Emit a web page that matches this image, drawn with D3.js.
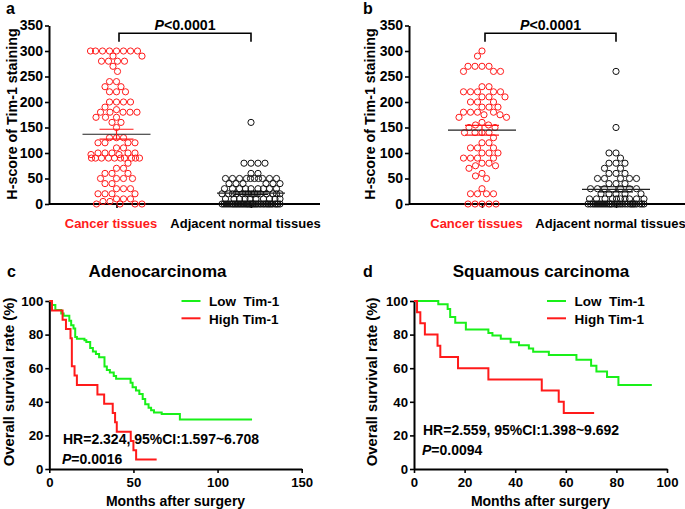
<!DOCTYPE html>
<html><head><meta charset="utf-8">
<script src="https://cdn.jsdelivr.net/npm/d3@7"></script>
<style>
body{margin:0;background:#fff}
text{font-family:"Liberation Sans",Arial,Helvetica,sans-serif;font-weight:bold}
</style>
</head><body>
<svg id="chart" width="685" height="509"></svg>
<script>
// ---------------- DATA ----------------
const categories = ["Cancer tissues", "Adjacent normal tissues"];
const scatterTicks = [0, 50, 100, 150, 200, 250, 300, 350];

const cancerA = [300,300,300,300,300,300,300,300,290,290,280,280,280,280,270,260,
  240,240,230,230,220,220,220,200,200,200,200,190,185,180,180,180,180,180,
  170,170,170,160,160,150,130,130,130,120,120,120,120,110,110,
  100,100,100,100,100,97,97,90,90,90,90,90,90,90,90,90,90,80,70,70,
  60,60,60,50,50,50,50,40,40,30,30,30,20,20,20,20,10,10,10,5,5,0,0,0,0];
const adjacentA = [160,80,80,80,80,60,60,50,50,50,50,50,50,50,50,50,50,
  40,40,40,40,40,40,30,30,30,30,30,30,30,30,30,
  20,20,20,20,20,20,20,20,20,20,20,20,20,20,20,
  10,10,10,10,10,10,10,10,10,10,
  0,0,0,0,0,0,0,0,0,0,0,0,0,0,0,0,0,0,0,0,0,0,0,0,0,0,0,0,0,0,0,0,0,0,0,0,0];
const cancerB = [300,290,270,270,270,270,260,260,260,230,230,220,220,220,220,220,
  210,210,210,200,200,200,190,190,190,180,180,180,180,175,175,170,170,160,155,155,
  150,150,140,140,140,140,130,120,120,110,110,110,100,100,100,90,90,90,90,
  80,80,75,75,70,60,55,50,30,20,20,20,20,0,0,0,0,0];
const adjacentB = [260,150,100,100,90,80,80,80,70,70,60,60,60,50,50,50,50,50,
  40,40,40,30,30,30,30,30,30,20,20,20,20,20,10,10,10,10,10,10,10,10,10,10,
  0,0,0,0,0,0,0,0,0,0,0,0,0,0,0,0,0,0,0,0,0,0,0,0,0,0,0,0];

// Kaplan-Meier curves (months, survival %)
const survTicks = [0, 20, 40, 60, 80, 100];
const monthTicksC = [0, 50, 100, 150];
const monthTicksD = [0, 20, 40, 60, 80, 100];
const lowC_t = [0,1.6,3.6,7.1,8.5,11.9,13,14.4,15.4,16.4,20.9,22,24.3,25.9,27.7,29.6,32.8,34.2,36,38.3,39.7,48.3,49.5,51.5,53.5,55.5,57,59,60.5,62.2,66.8,77.6,120.5];
const lowC_s = [100,97.6,94.6,92.6,91.2,88.2,85.6,83.6,78.6,77.6,76.6,75.6,72,70,68.5,66.5,61,59,57.5,55.3,53.7,51.3,48.7,46.7,44.7,41.7,38.5,36.5,35,33.7,32.7,29.5,29.5];
const highC_t = [0,1.6,7.9,9.9,12.6,13.4,15,16.4,28.6,32.6,37.7,39.1,40.1,48.4,50,51.6,63.8];
const highC_s = [100,94.4,88.9,83.3,77.8,61.1,55.6,50,44.4,38.9,33.3,27.8,22.2,16.7,11.1,5.6,5.6];
const lowD_t = [0,9.6,13.3,14.3,16.3,20.5,29.4,31,34.3,38.2,41.5,45.4,47.1,53.3,64.2,70,72.1,76.3,80.8,94];
const lowD_s = [100,98.1,95.2,90.5,87,83,81,79.5,77.5,75.5,73.6,71.7,69.8,67.9,65,61.5,58,54.7,50,50];
const highD_t = [0,1.2,2.5,4.3,9.3,10.4,17.4,29.4,50.5,57.2,59.2,71.2];
const highD_s = [100,93.3,86.7,80,73.3,66.7,60,53.3,46.7,40,33.3,33.3];

const legendLabels = ["Low  Tim-1", "High Tim-1"];
const RED = "#ff1a1a", GREEN = "#19f019";

// ---------------- DRAW ----------------
const svg = d3.select("#chart");
const FONT = '"Liberation Sans",Arial,sans-serif';

function styleAxis(g, fs) {
  g.select(".domain").attr("stroke", "#000").attr("stroke-width", 2);
  g.selectAll(".tick line").attr("stroke", "#000").attr("stroke-width", 1.6);
  g.selectAll(".tick text").attr("font-size", fs).attr("font-weight", "bold")
    .attr("font-family", FONT).attr("fill", "#000");
}

function swarm(values, y, cx, r, maxHalf) {
  const D = 2 * r + 0.6;
  const pts = values.map(v => ({ v, y: y(v) })).sort((a, b) => b.v - a.v);
  const placed = [];
  const cands = [0];
  for (let k = 0.5; k <= maxHalf; k += 0.5) { cands.push(k); cands.push(-k); }
  pts.forEach((p, i) => {
    let best = 0, bestScore = -1;
    const flip = i % 2 ? -1 : 1;
    for (const c0 of cands) {
      const c = c0 * flip;
      let md = Infinity;
      for (const q of placed) {
        const dy = q.y - p.y;
        if (Math.abs(dy) >= D) continue;
        const dx = q.dx - c;
        const d = Math.sqrt(dx * dx + dy * dy);
        if (d < md) md = d;
      }
      if (md >= D) { best = c; bestScore = Infinity; break; }
      if (md > bestScore + 0.01) { bestScore = md; best = c; }
    }
    p.dx = best;
    placed.push(p);
  });
  return pts.map(p => ({ v: p.v, x: cx + p.dx, y: p.y }));
}

function scatterPanel(opt) {
  const y = d3.scaleLinear().domain([0, 350]).range([204, 25.5]);
  const x = d3.scalePoint().domain(categories).range(opt.centers);
  const g = svg.append("g");
  const ya = g.append("g").attr("transform", `translate(${opt.axisX},0)`)
    .call(d3.axisLeft(y).tickValues(scatterTicks).tickSize(4).tickPadding(2).tickSizeOuter(0));
  styleAxis(ya, 14);
  g.append("line").attr("x1", opt.axisX).attr("x2", opt.axisEnd).attr("y1", y(0)).attr("y2", y(0))
    .attr("stroke", "#000").attr("stroke-width", 2);
  const xa = g.append("g").attr("transform", `translate(0,${y(0)})`)
    .call(d3.axisBottom(x).tickSize(4).tickPadding(11).tickSizeOuter(0));
  styleAxis(xa, 13);
  xa.select(".domain").remove();
  xa.selectAll(".tick text").attr("dx", -6)
    .attr("fill", d => d === categories[0] ? RED : "#000");
  g.append("text").attr("transform", `translate(${opt.labelX},${114}) rotate(-90)`)
    .attr("text-anchor", "middle").attr("font-size", 14.3).text("H-score of Tim-1 staining");
  const sets = [opt.cancer, opt.adjacent];
  sets.forEach((vals, i) => {
    const col = i === 0 ? RED : "#111";
    const cx = x(categories[i]);
    const pts = swarm(vals, y, cx, 3.1, opt.halfW[i]);
    g.append("g").selectAll("circle").data(pts).join("circle")
      .attr("cx", d => d.x).attr("cy", d => d.y).attr("r", 3.1)
      .attr("fill", "none").attr("stroke", col).attr("stroke-width", 1);
    const m = d3.mean(vals), sem = d3.deviation(vals) / Math.sqrt(vals.length);
    g.append("line").attr("x1", cx - 34).attr("x2", cx + 34).attr("y1", y(m)).attr("y2", y(m))
      .attr("stroke", "#222").attr("stroke-width", 1.2);
    [m + sem, m - sem].forEach(v => g.append("line").attr("x1", cx - 17).attr("x2", cx + 17)
      .attr("y1", y(v)).attr("y2", y(v)).attr("stroke", col).attr("stroke-width", 1.2));
    g.append("line").attr("x1", cx).attr("x2", cx).attr("y1", y(m + sem)).attr("y2", y(m - sem))
      .attr("stroke", col).attr("stroke-width", 1.2);
  });
  const bx1 = x(categories[0]) + opt.bracketShift, bx2 = x(categories[1]);
  g.append("path").attr("d", `M${bx1},41.7V33.3H${bx2}V41.7`).attr("fill", "none")
    .attr("stroke", "#000").attr("stroke-width", 1.6);
  const pt = g.append("text").attr("x", (bx1 + bx2) / 2).attr("y", 29.5).attr("text-anchor", "middle")
    .attr("font-size", 14.2);
  pt.append("tspan").attr("font-style", "italic").text("P");
  pt.append("tspan").text("<0.0001");
  g.append("text").attr("x", opt.letterX).attr("y", 13.5).attr("font-size", 16).text(opt.letter);
}

scatterPanel({ letter: "a", letterX: 6, axisX: 49, axisEnd: 320, centers: [116.5, 251], labelX: 17,
  cancer: cancerA, adjacent: adjacentA, bracketShift: 2.5, halfW: [26, 29] });
scatterPanel({ letter: "b", letterX: 363, axisX: 409, axisEnd: 685, centers: [482, 616], labelX: 375,
  cancer: cancerB, adjacent: adjacentB, bracketShift: 3, halfW: [26, 28] });

function kmPanel(opt) {
  const x = d3.scaleLinear().domain(opt.xDomain).range(opt.xRange);
  const y = d3.scaleLinear().domain([0, 100]).range([469, 301]);
  const g = svg.append("g");
  const ya = g.append("g").attr("transform", `translate(${opt.xRange[0]},0)`)
    .call(d3.axisLeft(y).tickValues(survTicks).tickSize(4).tickPadding(2).tickSizeOuter(0));
  styleAxis(ya, 13.2);
  const xa = g.append("g").attr("transform", `translate(0,${y(0)})`)
    .call(d3.axisBottom(x).tickValues(opt.xTicks).tickSize(4).tickPadding(5).tickSizeOuter(0));
  styleAxis(xa, 13.2);
  const line = d3.line().x(d => x(d[0])).y(d => y(d[1])).curve(d3.curveStepAfter);
  opt.curves.forEach(c => {
    g.append("path").datum(d3.zip(c.t, c.s)).attr("d", line).attr("fill", "none")
      .attr("stroke", c.color).attr("stroke-width", 2);
  });
  opt.curves.forEach((c, i) => {
    const ly = 301 + i * 17.3;
    g.append("line").attr("x1", opt.legX).attr("x2", opt.legX + 19).attr("y1", ly).attr("y2", ly)
      .attr("stroke", c.color).attr("stroke-width", 2);
    g.append("text").attr("x", opt.legX + 27.5).attr("y", ly + 5.3).attr("font-size", 13.5)
      .style("white-space", "pre").text(legendLabels[i]);
  });
  g.append("text").attr("transform", `translate(${opt.labelX},382) rotate(-90)`)
    .attr("text-anchor", "middle").attr("font-size", 14.8).text("Overall survival rate (%)");
  g.append("text").attr("x", (opt.xRange[0] + opt.xRange[1]) / 2).attr("y", 506)
    .attr("text-anchor", "middle").attr("font-size", 14).text("Months after surgery");
  g.append("text").attr("x", opt.titleX).attr("y", 276.5).attr("text-anchor", "middle")
    .attr("font-size", 17).text(opt.title);
  g.append("text").attr("x", opt.letterX).attr("y", 277).attr("font-size", 16).text(opt.letter);
  g.append("text").attr("x", opt.hrX).attr("y", opt.hrY).attr("font-size", 14).text(opt.hr);
  const p = g.append("text").attr("x", opt.hrX - 1).attr("y", opt.hrY + 19.5).attr("font-size", 14);
  p.append("tspan").attr("font-style", "italic").text("P");
  p.append("tspan").text(opt.p);
}

kmPanel({ letter: "c", letterX: 7, title: "Adenocarcinoma", titleX: 157.5,
  xDomain: [0, 150], xRange: [49.3, 301.7], xTicks: monthTicksC, labelX: 13.5, legX: 181.5,
  hr: "HR=2.324, 95%CI:1.597~6.708", p: "=0.0016", hrX: 63, hrY: 444,
  curves: [{ t: lowC_t, s: lowC_s, color: GREEN }, { t: highC_t, s: highC_s, color: RED }] });
kmPanel({ letter: "d", letterX: 363, title: "Squamous carcinoma", titleX: 541,
  xDomain: [0, 100], xRange: [414, 667], xTicks: monthTicksD, labelX: 377, legX: 547,
  hr: "HR=2.559, 95%CI:1.398~9.692", p: "=0.0094", hrX: 423, hrY: 435,
  curves: [{ t: lowD_t, s: lowD_s, color: GREEN }, { t: highD_t, s: highD_s, color: RED }] });
</script>
</body></html>
